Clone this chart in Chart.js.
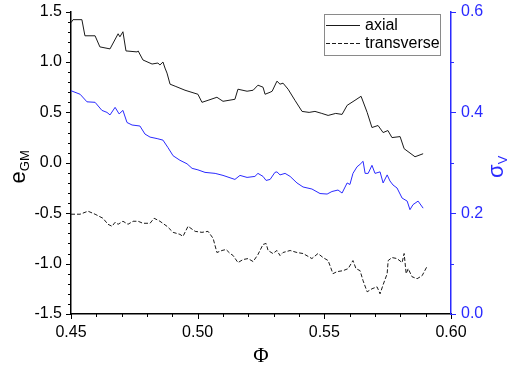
<!DOCTYPE html>
<html>
<head>
<meta charset="utf-8">
<script src="https://cdn.jsdelivr.net/npm/chart.js@4/dist/chart.umd.min.js"></script>
<style>
html,body{margin:0;padding:0;background:#fff;}
#c{display:block;}
</style>
</head>
<body>
<canvas id="c" width="512" height="368"></canvas>
<script>
// ---- data ----
const phiAxial = [0.4500,0.4508,0.4543,0.4555,0.4595,0.4614,0.4654,0.4686,0.4693,0.4705,0.4717,0.4761,0.4765,0.4784,0.4820,0.4843,0.4851,0.4863,0.4871,0.4879,0.4891,0.4911,0.4950,0.5001,0.5017,0.5041,0.5076,0.5100,0.5147,0.5159,0.5195,0.5219,0.5238,0.5258,0.5266,0.5286,0.5294,0.5313,0.5325,0.5337,0.5357,0.5384,0.5412,0.5440,0.5463,0.5490,0.5515,0.5545,0.5570,0.5590,0.5621,0.5645,0.5669,0.5688,0.5712,0.5732,0.5751,0.5767,0.5799,0.5815,0.5858,0.5890];
const eAxial   = [1.39,1.42,1.42,1.26,1.26,1.15,1.13,1.28,1.25,1.30,1.11,1.10,1.11,1.02,0.98,0.99,0.97,1.00,0.94,0.89,0.78,0.76,0.72,0.68,0.60,0.62,0.65,0.61,0.63,0.73,0.71,0.72,0.77,0.75,0.68,0.70,0.71,0.81,0.78,0.79,0.73,0.62,0.51,0.50,0.51,0.49,0.47,0.49,0.48,0.57,0.62,0.66,0.50,0.35,0.37,0.30,0.32,0.25,0.26,0.14,0.06,0.09];

const phiTrans = [0.4500,0.4536,0.4567,0.4595,0.4626,0.4646,0.4662,0.4674,0.4686,0.4705,0.4725,0.4745,0.4765,0.4784,0.4812,0.4828,0.4851,0.4879,0.4903,0.4930,0.4942,0.4962,0.4990,0.5017,0.5041,0.5061,0.5076,0.5096,0.5112,0.5128,0.5140,0.5159,0.5179,0.5199,0.5219,0.5238,0.5258,0.5270,0.5278,0.5297,0.5313,0.5325,0.5337,0.5365,0.5392,0.5416,0.5451,0.5475,0.5495,0.5515,0.5534,0.5550,0.5574,0.5594,0.5613,0.5625,0.5641,0.5653,0.5669,0.5688,0.5708,0.5720,0.5732,0.5748,0.5752,0.5767,0.5787,0.5807,0.5815,0.5823,0.5831,0.5846,0.5866,0.5886,0.5905];
const eTrans   = [-0.51,-0.51,-0.48,-0.51,-0.55,-0.61,-0.63,-0.59,-0.61,-0.58,-0.61,-0.58,-0.58,-0.60,-0.60,-0.55,-0.58,-0.63,-0.69,-0.71,-0.73,-0.63,-0.68,-0.69,-0.68,-0.75,-0.89,-0.87,-0.86,-0.90,-0.92,-0.99,-0.96,-0.95,-0.98,-0.91,-0.81,-0.80,-0.87,-0.90,-0.87,-0.92,-0.89,-0.87,-0.89,-0.90,-0.95,-0.90,-0.94,-0.97,-1.10,-1.08,-1.07,-1.05,-0.97,-1.05,-1.07,-1.17,-1.28,-1.25,-1.23,-1.30,-1.21,-1.10,-0.97,-0.94,-0.95,-0.99,-0.90,-1.10,-1.05,-1.13,-1.15,-1.12,-1.03];

const phiSigma = [0.4500,0.4536,0.4563,0.4595,0.4622,0.4642,0.4654,0.4674,0.4690,0.4705,0.4721,0.4741,0.4772,0.4792,0.4812,0.4840,0.4863,0.4883,0.4903,0.4930,0.4958,0.4978,0.5001,0.5029,0.5069,0.5100,0.5147,0.5167,0.5195,0.5226,0.5238,0.5258,0.5270,0.5286,0.5305,0.5313,0.5325,0.5345,0.5365,0.5392,0.5416,0.5451,0.5483,0.5511,0.5530,0.5554,0.5570,0.5590,0.5601,0.5613,0.5629,0.5641,0.5653,0.5661,0.5673,0.5688,0.5700,0.5720,0.5732,0.5748,0.5759,0.5771,0.5787,0.5807,0.5827,0.5838,0.5850,0.5870,0.5890];
const sigmaV   = [0.443,0.436,0.421,0.420,0.404,0.400,0.395,0.410,0.397,0.404,0.380,0.375,0.373,0.357,0.351,0.348,0.345,0.330,0.314,0.305,0.298,0.289,0.286,0.281,0.279,0.275,0.267,0.275,0.271,0.273,0.279,0.273,0.265,0.267,0.281,0.282,0.276,0.279,0.273,0.260,0.252,0.248,0.239,0.238,0.243,0.246,0.240,0.260,0.257,0.279,0.292,0.297,0.303,0.279,0.279,0.295,0.279,0.282,0.260,0.276,0.264,0.256,0.250,0.230,0.224,0.207,0.217,0.224,0.210];

const seriesLabels = ['axial','transverse'];
const xTitle = 'Φ';
const yTitleMain = 'e', yTitleSub = 'GM';
const y2TitleMain = 'σ', y2TitleSub = 'V';

const BLUE = '#2a2aff';
const pts = (xs, ys) => xs.map((x, i) => ({x: x, y: ys[i]}));

// minor/major tick marks drawn through the scales
const tickPlugin = {
  id: 'ticks',
  afterDraw(chart) {
    const ctx = chart.ctx;
    const sx = chart.scales.x, sy = chart.scales.y, sy2 = chart.scales.y2;
    ctx.save();
    ctx.lineWidth = 1;
    ctx.strokeStyle = '#000';
    for (let i = 0; i <= 30; i++) {
      const v = -1.5 + i * 0.1;
      const p = Math.round(sy.getPixelForValue(v)) + 0.5;
      const len = i % 5 === 0 ? 5 : 3;
      ctx.beginPath(); ctx.moveTo(sy.right, p); ctx.lineTo(sy.right - len, p); ctx.stroke();
    }
    for (let i = 0; i <= 15; i++) {
      const v = 0.45 + i * 0.01;
      const p = Math.round(sx.getPixelForValue(v)) + 0.5;
      const len = i % 5 === 0 ? 5 : 3;
      ctx.beginPath(); ctx.moveTo(p, sx.top); ctx.lineTo(p, sx.top + len); ctx.stroke();
    }
    ctx.strokeStyle = BLUE;
    for (let i = 0; i <= 6; i++) {
      const v = i * 0.1;
      const p = Math.round(sy2.getPixelForValue(v)) + 0.5;
      const len = i % 2 === 0 ? 5 : 3;
      ctx.beginPath(); ctx.moveTo(sy2.left, p); ctx.lineTo(sy2.left + len, p); ctx.stroke();
    }
    ctx.restore();
  }
};

// axis titles with subscripts
const titlePlugin = {
  id: 'titles',
  afterDraw(chart) {
    const ctx = chart.ctx;
    const ca = chart.chartArea;
    const midY = (ca.top + ca.bottom) / 2;
    ctx.save();
    ctx.fillStyle = '#000';
    ctx.font = '21px "Liberation Serif", "Times New Roman", serif';
    ctx.textAlign = 'center';
    ctx.textBaseline = 'alphabetic';
    ctx.fillText(xTitle, (ca.left + ca.right) / 2, 362);
    const drawRot = (x, y, main, sub, color) => {
      ctx.save();
      ctx.translate(x, y);
      ctx.rotate(-Math.PI / 2);
      ctx.fillStyle = color;
      ctx.textAlign = 'left';
      ctx.textBaseline = 'alphabetic';
      ctx.font = '22px "Liberation Sans", Arial, sans-serif';
      const w1 = ctx.measureText(main).width;
      ctx.font = '13px "Liberation Sans", Arial, sans-serif';
      const w2 = ctx.measureText(sub).width;
      const start = -(w1 + w2) / 2;
      ctx.font = '22px "Liberation Sans", Arial, sans-serif';
      ctx.fillText(main, start, 0);
      ctx.font = '13px "Liberation Sans", Arial, sans-serif';
      ctx.fillText(sub, start + w1, 4);
      ctx.restore();
    };
    drawRot(25, midY + 4, yTitleMain, yTitleSub, '#000');
    drawRot(503, midY + 4, y2TitleMain, y2TitleSub, BLUE);
    ctx.restore();
  }
};

// legend box inside plot
const legendPlugin = {
  id: 'boxLegend',
  afterDraw(chart) {
    const ctx = chart.ctx;
    const x0 = 324.5, y0 = 14.5, w = 116, h = 41;
    ctx.save();
    ctx.fillStyle = '#fff';
    ctx.fillRect(x0, y0, w, h);
    ctx.strokeStyle = '#8a8a8a';
    ctx.lineWidth = 1;
    ctx.strokeRect(x0, y0, w, h);
    ctx.font = '16px "Liberation Sans", Arial, sans-serif';
    ctx.textBaseline = 'middle';
    ctx.textAlign = 'left';
    [0, 1].forEach((k) => {
      const ds = chart.data.datasets[k];
      const yy = k === 0 ? 25.5 : 43.5;
      ctx.strokeStyle = ds.borderColor;
      ctx.setLineDash(ds.borderDash || []);
      ctx.beginPath(); ctx.moveTo(326, yy); ctx.lineTo(360, yy); ctx.stroke();
      ctx.setLineDash([]);
      ctx.fillStyle = '#000';
      ctx.fillText(ds.label, 365, yy);
    });
    ctx.restore();
  }
};

const tickFont = {family: '"Liberation Sans", Arial, sans-serif', size: 16};

new Chart(document.getElementById('c'), {
  type: 'line',
  data: {
    datasets: [
      {label: seriesLabels[0], data: pts(phiAxial, eAxial), borderColor: '#1a1a1a', borderWidth: 1, pointRadius: 0, tension: 0, yAxisID: 'y'},
      {label: seriesLabels[1], data: pts(phiTrans, eTrans), borderColor: '#1a1a1a', borderWidth: 1, borderDash: [4, 2], pointRadius: 0, tension: 0, yAxisID: 'y'},
      {label: 'sigma', data: pts(phiSigma, sigmaV), borderColor: BLUE, borderWidth: 1, pointRadius: 0, tension: 0, yAxisID: 'y2'}
    ]
  },
  options: {
    responsive: false,
    animation: false,
    devicePixelRatio: 1,
    layout: {padding: {top: 8, left: 0, right: 0, bottom: 0}},
    plugins: {legend: {display: false}, tooltip: {enabled: false}, title: {display: false}},
    scales: {
      x: {
        type: 'linear', min: 0.45, max: 0.60,
        grid: {display: false},
        border: {display: true, color: '#000', width: 1.5},
        ticks: {stepSize: 0.05, color: '#000', font: tickFont, padding: 1, maxRotation: 0,
          callback: (v) => Number(v).toFixed(2)},
        afterFit: (s) => { s.height = 54; }
      },
      y: {
        type: 'linear', position: 'left', min: -1.5, max: 1.5,
        grid: {display: false},
        border: {display: true, color: '#000', width: 1.5},
        ticks: {stepSize: 0.5, color: '#000', font: tickFont, padding: 1,
          callback: (v) => Number(v).toFixed(1)},
        afterFit: (s) => { s.width = 71; }
      },
      y2: {
        type: 'linear', position: 'right', min: 0, max: 0.6,
        grid: {display: false},
        border: {display: true, color: BLUE, width: 1.5},
        ticks: {stepSize: 0.2, color: BLUE, font: tickFont, padding: 2,
          callback: (v) => Number(v).toFixed(1)},
        afterFit: (s) => { s.width = 61; }
      }
    }
  },
  plugins: [tickPlugin, titlePlugin, legendPlugin]
});
</script>
</body>
</html>
